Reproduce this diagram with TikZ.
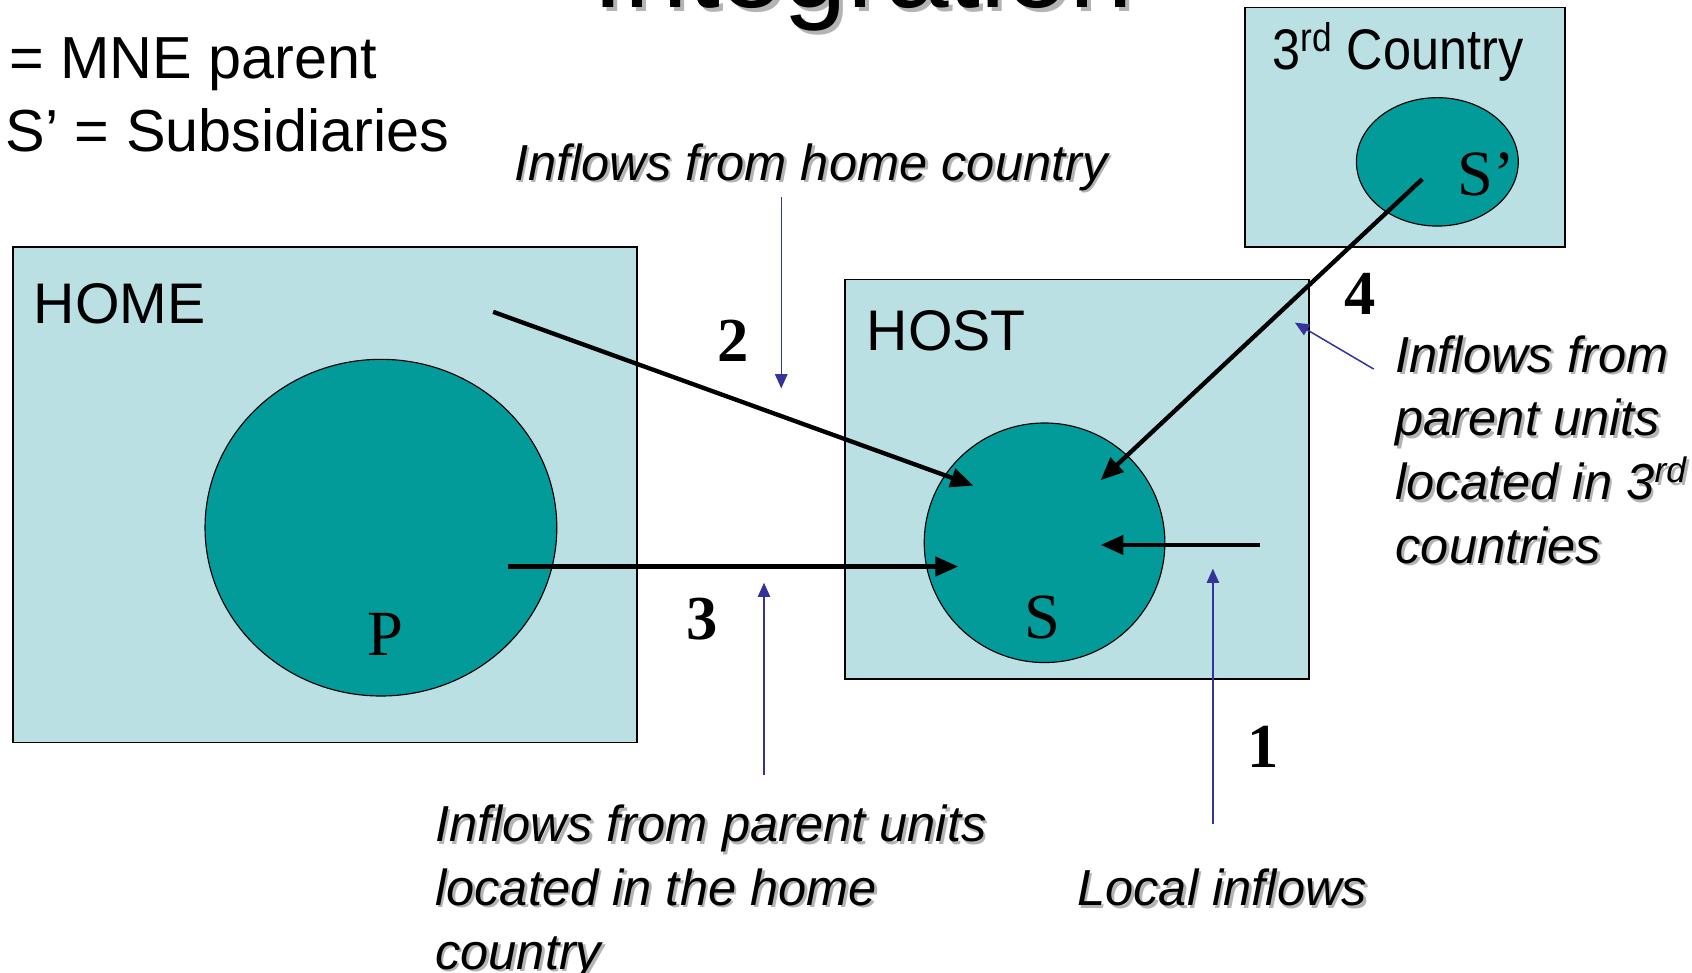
\documentclass[tikz,border=0pt]{standalone}
\usepackage{fontspec}
\setmainfont{Liberation Sans}
\newfontfamily\serifrm{Liberation Serif}
\usetikzlibrary{shapes.geometric,arrows.meta}
\definecolor{boxfill}{HTML}{BBE0E3}
\definecolor{tealfill}{HTML}{039A9A}
\definecolor{navyline}{HTML}{333399}
\definecolor{shadowgray}{HTML}{B4B4B4}
\newcommand{\shd}[1]{\leavevmode\rlap{\hspace{1.4pt}\raisebox{-1.4pt}{\textcolor{shadowgray}{#1}}}#1}
\newcommand{\shdbig}[1]{\leavevmode\rlap{\hspace{2.2pt}\raisebox{-2.2pt}{\textcolor{shadowgray}{#1}}}#1}
\begin{document}
\begin{tikzpicture}[x=0.02cm,y=-0.02cm,
  country/.style={draw=black,line width=0.9pt,fill=boxfill,rectangle,inner sep=0pt},
  unit/.style={draw=black,line width=0.6pt,fill=tealfill,ellipse,inner sep=0pt},
  flow/.style={line width=2.3pt,-{Triangle[length=12pt,width=10pt]}},
  pointer/.style={navyline,line width=0.8pt,-{Triangle[length=7.5pt,width=6.5pt]}},
  lbl/.style={inner sep=0pt,anchor=base west},
  big/.style={font=\fontsize{30.2}{36}\selectfont},
  legend/.style={font=\fontsize{31.3}{38}\selectfont},
  note/.style={inner sep=0pt,anchor=base west,align=left,font=\fontsize{26.7}{33.6}\selectfont\itshape},
  letter/.style={inner sep=0pt,anchor=base,font=\serifrm\fontsize{34}{40}\selectfont},
  num/.style={inner sep=0pt,anchor=base,font=\serifrm\bfseries\fontsize{33}{40}\selectfont}]
\useasboundingbox (0,0) rectangle (1568,901);

% title (clipped by page top)
\node[lbl,font=\fontsize{60.3}{70}\selectfont] (title) at (549,6.5) {\shdbig{Integration}};

% legend
\node[lbl,legend] (leg1) at (8,73) {= MNE parent};
\node[lbl,legend] (leg2) at (5,140) {S’ = Subsidiaries};

% countries
\node[country,minimum width={578*0.02cm},minimum height={459*0.02cm}] (home) at (301,458.5) {};
\node[country,minimum width={430*0.02cm},minimum height={370*0.02cm}] (host) at (998,444) {};
\node[country,minimum width={296*0.02cm},minimum height={222*0.02cm}] (third) at (1302,118) {};

\node[lbl,big] (homelbl) at (31,300) {HOME};
\node[lbl,big] (hostlbl) at (803,325) {HOST};
\node[lbl,big] (thirdlbl) at (1179,64) {\scalebox{0.88}[1]{3\textsuperscript{rd} Country}};

% units
\node[unit,minimum width={326*0.02cm},minimum height={312*0.02cm}] (P) at (353,489) {};
\node[unit,minimum width={223*0.02cm},minimum height={222*0.02cm}] (S) at (968,503) {};
\node[unit,minimum width={150*0.02cm},minimum height={119*0.02cm}] (Sp) at (1332,150) {};

\node[letter] (Plbl) at (357,607) {P};
\node[letter] (Slbl) at (966,592) {S};
\node[letter] (Splbl) at (1377,181) {S’};

% flow end points
\coordinate (f2a) at (457,289);  \coordinate (f2b) at (902,450);
\coordinate (f3a) at (471,525);  \coordinate (f3b) at (888,525);
\coordinate (f4a) at (1318,166); \coordinate (f4b) at (1020,445);
\coordinate (f1a) at (1168,505); \coordinate (f1b) at (1020,505);

\draw[flow] (f2a) -- (f2b);
\draw[flow] (f3a) -- (f3b);
\draw[flow] (f4a) -- (f4b);
\draw[flow] (f1a) -- (f1b);

\node[num] (n2) at (679,335) {2};
\node[num] (n3) at (651,593) {3};
\node[num] (n4) at (1260,291) {4};
\node[num] (n1) at (1171,711) {1};

% notes (multi-line nodes: base = last line)
\node[note] (nhome) at (476,167) {\shd{Inflows from home country}};
\node[note] (nthird) at (1293,522) {\shd{Inflows from}\\\shd{parent units}\\\shd{located in 3\textsuperscript{rd}}\\\shd{countries}};
\node[note] (nparent) at (403,898) {\shd{Inflows from parent units}\\\shd{located in the home}\\\shd{country}};
\node[note] (nlocal) at (998,839) {\shd{Local inflows}};

% pointers
\coordinate (p2a) at (724,183);  \coordinate (p2b) at (724,360);
\coordinate (p3a) at (708,718);  \coordinate (p3b) at (708,540);
\coordinate (p1a) at (1124,764); \coordinate (p1b) at (1124,527);
\coordinate (p4a) at (1273,342); \coordinate (p4b) at (1200,299);
\draw[pointer] (p2a) -- (p2b);
\draw[pointer] (p3a) -- (p3b);
\draw[pointer] (p1a) -- (p1b);
\draw[pointer] (p4a) -- (p4b);
\end{tikzpicture}
\end{document}
